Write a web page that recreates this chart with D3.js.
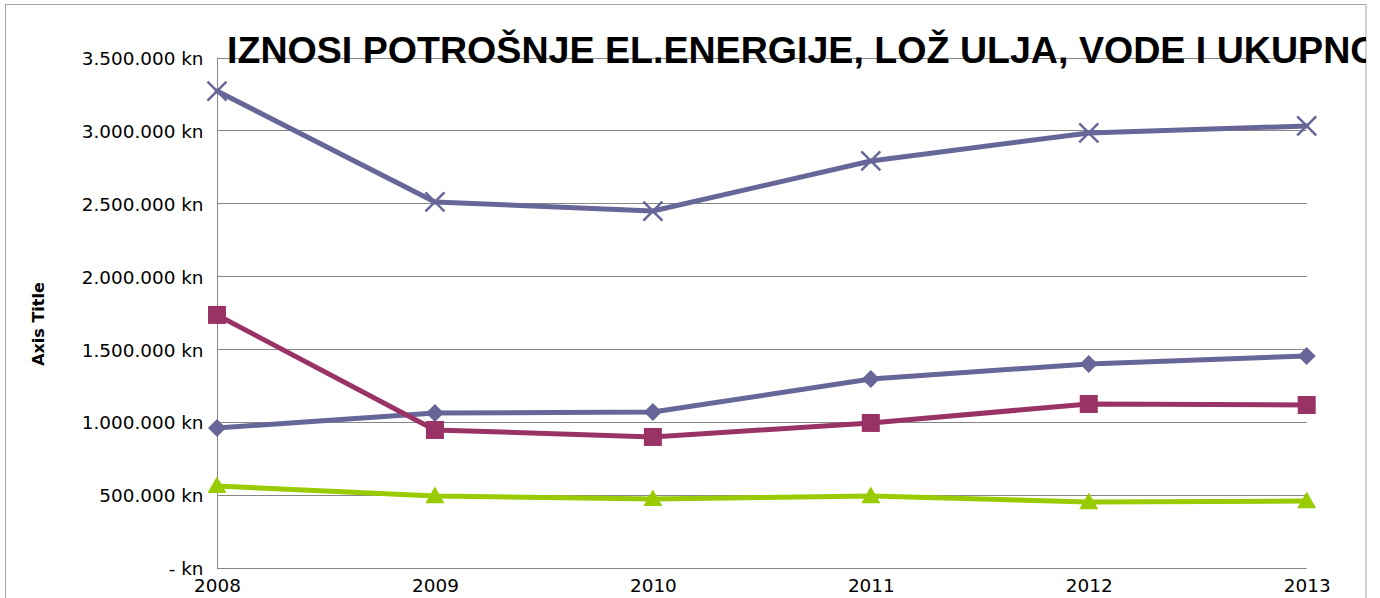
<!DOCTYPE html>
<html>
<head>
<meta charset="utf-8">
<script src="https://cdn.jsdelivr.net/npm/d3@7/dist/d3.min.js"></script>
<style>
  html, body { margin: 0; padding: 0; background: #fff; }
  svg { display: block; }
</style>
</head>
<body>
<svg id="chart" width="1380" height="598"></svg>
<script>
// ---- data ----
const years = ["2008", "2009", "2010", "2011", "2012", "2013"];
const elEnergija = [961000, 1064000, 1071000, 1297000, 1400000, 1455000];
const lozUlje = [1736000, 948000, 900000, 996000, 1126000, 1119000];
const voda = [564000, 495000, 475000, 495000, 454000, 461000];
const ukupno = [3270000, 2510000, 2448000, 2791000, 2983000, 3031000];
const yTicks = [0, 500000, 1000000, 1500000, 2000000, 2500000, 3000000, 3500000];
const titleText = "IZNOSI POTROŠNJE EL.ENERGIJE, LOŽ ULJA, VODE I UKUPNO";
const yAxisTitle = "Axis Title";

const series = [
  { name: "el.energija", values: elEnergija, color: "#666699", marker: "diamond" },
  { name: "lož ulje", values: lozUlje, color: "#993366", marker: "square" },
  { name: "voda", values: voda, color: "#99CC00", marker: "triangle" },
  { name: "ukupno", values: ukupno, color: "#666699", marker: "x" }
];

const svg = d3.select("#chart");
const plot = { left: 217, right: 1306.7, top: 57.5, bottom: 568.3 };

const x = d3.scalePoint().domain(years).range([plot.left, plot.right]);
const y = d3.scaleLinear().domain([0, 3500000]).range([plot.bottom, plot.top]);

const loc = d3.formatLocale({ decimal: ",", thousands: ".", grouping: [3], currency: ["", " kn"] });
const fmt = v => v === 0 ? "- kn" : loc.format(",")(v) + " kn";

// outer border
svg.append("rect")
  .attr("x", 5.5).attr("y", 4.5)
  .attr("width", 1360.5).attr("height", 700)
  .attr("fill", "#fff").attr("stroke", "#a6a6a6").attr("stroke-width", 1);

svg.append("defs").append("clipPath").attr("id", "clipChart")
  .append("rect").attr("x", 5).attr("y", 4).attr("width", 1361).attr("height", 600);

// gridlines
svg.append("g").selectAll("line").data(yTicks.filter(d => d > 0)).join("line")
  .attr("x1", plot.left).attr("x2", plot.right)
  .attr("y1", d => Math.round(y(d)) + 0.5).attr("y2", d => Math.round(y(d)) + 0.5)
  .attr("stroke", "#878787").attr("stroke-width", 1);

// y axis
const yAxis = d3.axisLeft(y).tickValues(yTicks).tickFormat(fmt).tickSize(0).tickPadding(14);
const gy = svg.append("g").attr("transform", `translate(${plot.left + 0.5},0)`).call(yAxis);
gy.select(".domain").attr("stroke", "#878787").attr("d", `M0,${plot.top}V${plot.bottom + 1}`);
gy.selectAll("text")
  .attr("font-family", "DejaVu Sans").attr("font-size", 18.4).attr("fill", "#000")
  .attr("dy", "0.36em");

// x axis
const xAxis = d3.axisBottom(x).tickSize(0).tickPadding(10);
const gx = svg.append("g").attr("transform", `translate(0,${Math.round(plot.bottom) + 0.5})`).call(xAxis);
gx.select(".domain").attr("stroke", "#878787").attr("d", `M${plot.left},0H${plot.right}`);
gx.selectAll("text")
  .attr("font-family", "DejaVu Sans").attr("font-size", 18.4).attr("fill", "#000")
  .attr("dy", "0.72em");

// axis title
svg.append("text")
  .attr("transform", "translate(44,324) rotate(-90)")
  .attr("text-anchor", "middle")
  .attr("font-family", "DejaVu Sans").attr("font-weight", "bold").attr("font-size", 16)
  .attr("fill", "#000")
  .text(yAxisTitle);

// chart title (clipped by chart border, as in the reference)
svg.append("text")
  .attr("clip-path", "url(#clipChart)")
  .attr("x", 227).attr("y", 62.5)
  .attr("font-family", "Liberation Sans, Arial, sans-serif").attr("font-weight", "bold")
  .attr("font-size", 37.6).attr("fill", "#000")
  .text(titleText);

// lines
const line = d3.line().x((d, i) => x(years[i])).y(d => y(d));
const gLines = svg.append("g");
series.forEach(s => {
  gLines.append("path")
    .attr("d", line(s.values))
    .attr("fill", "none").attr("stroke", s.color)
    .attr("stroke-width", 5).attr("stroke-linejoin", "round").attr("stroke-linecap", "round");
});

// markers
const gMarks = svg.append("g");
series.forEach(s => {
  const g = gMarks.append("g");
  s.values.forEach((v, i) => {
    const cx = x(years[i]), cy = y(v);
    if (s.marker === "diamond") {
      const r = 9;
      g.append("path").attr("d", `M${cx},${cy - r}L${cx + r},${cy}L${cx},${cy + r}L${cx - r},${cy}Z`)
        .attr("fill", s.color);
    } else if (s.marker === "square") {
      const r = 9;
      g.append("rect").attr("x", cx - r).attr("y", cy - r).attr("width", 2 * r).attr("height", 2 * r)
        .attr("fill", s.color);
    } else if (s.marker === "triangle") {
      const r = 9.5;
      g.append("path").attr("d", `M${cx},${cy - r}L${cx + r},${cy + r * 0.75}L${cx - r},${cy + r * 0.75}Z`)
        .attr("fill", s.color);
    } else if (s.marker === "x") {
      const r = 9.5;
      g.append("path").attr("d", `M${cx - r},${cy - r}L${cx + r},${cy + r}M${cx - r},${cy + r}L${cx + r},${cy - r}`)
        .attr("stroke", s.color).attr("stroke-width", 2.5).attr("fill", "none");
    }
  });
});
</script>
</body>
</html>
